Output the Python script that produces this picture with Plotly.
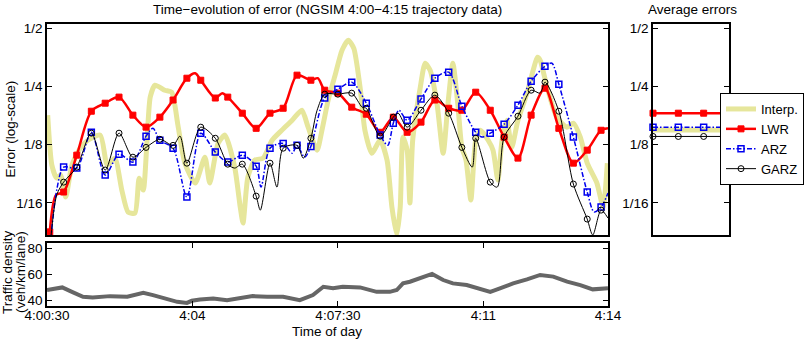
import plotly.graph_objects as go

# ---------------- data ----------------
# time axis: seconds after 4:00:00
t_mark = [34, 54, 73, 94, 114, 134, 154, 173, 193, 212, 232, 252, 273, 291, 312, 332,
          352, 371, 391, 411, 431, 450, 470, 491, 511, 530, 550, 570, 590, 610, 629, 649,
          670, 690, 710, 729, 749, 769, 790, 810, 830]

lwr_mark = [0.0443, 0.0712, 0.1104, 0.1863, 0.205, 0.2204, 0.1778, 0.1541, 0.1736, 0.2129,
            0.276, 0.2695, 0.218, 0.2204, 0.182, 0.152, 0.182, 0.193, 0.2862, 0.2695,
            0.2393, 0.231, 0.1955, 0.1798, 0.145, 0.1736, 0.145, 0.1636, 0.2129, 0.193,
            0.1885, 0.2337, 0.1885, 0.1369, 0.1066, 0.1778, 0.245, 0.152, 0.1004, 0.1172,
            0.1485]
t_lwr_extra = [43, 244, 283, 421, 840]
lwr_extra = [0.0687, 0.293, 0.231, 0.276, 0.152]

arz_mark = [0.0357, 0.0958, 0.0947, 0.145, 0.0871, 0.1117, 0.1017, 0.1385, 0.1319, 0.120,
            0.0671, 0.1435, 0.1145, 0.1017, 0.1104, 0.0969, 0.120, 0.127, 0.1241, 0.1226,
            0.218, 0.2421, 0.2633, 0.205, 0.1402, 0.1616, 0.1675, 0.2154, 0.276, 0.2967,
            0.1978, 0.145, 0.1435, 0.1597, 0.2003, 0.2663, 0.3185, 0.2569, 0.1369, 0.0712,
            0.0595]
t_arz_extra = [44, 183, 339, 384, 402, 522, 538, 658, 759, 820, 840]
arz_extra = [0.0729, 0.152, 0.0755, 0.113, 0.1078, 0.1241, 0.1885, 0.1369, 0.330, 0.0561, 0.0703]

garz_mark = [0.0357, 0.0801, 0.0958, 0.1435, 0.0925, 0.1435, 0.1078, 0.1211, 0.1334, 0.1241,
             0.1004, 0.1541, 0.135, 0.0992, 0.0992, 0.0678, 0.1004, 0.120, 0.1241, 0.135,
             0.2282, 0.2282, 0.231, 0.193, 0.1385, 0.1736, 0.1541, 0.1885, 0.2256, 0.182,
             0.1211, 0.135, 0.0801, 0.1369, 0.1756, 0.2393, 0.2633, 0.1863, 0.0783, 0.0516,
             0.0574]
t_garz_extra = [44, 222, 301, 338, 362, 400, 420, 485, 537, 644, 680, 742, 818, 840]
garz_extra = [0.0687, 0.1385, 0.0947, 0.0574, 0.0755, 0.1066, 0.1885, 0.1955, 0.182, 0.0958,
              0.0755, 0.231, 0.0427, 0.0522]

t_interp = [31, 37, 44, 50, 57, 66, 78, 89, 107, 117, 128, 138, 147, 157, 163, 169, 179, 186,
            200, 210, 219, 229, 244, 258, 265, 277, 287, 301, 309, 313, 320, 330, 342, 355,
            369, 384, 398, 407, 420, 427, 436, 446, 456, 465, 473, 482, 489, 499, 511, 521,
            528, 535, 540, 544, 550, 554, 558, 569, 576, 583, 593, 602, 609, 616, 623, 629,
            635, 642, 649, 656, 667, 674, 681, 687, 694, 701, 710, 723, 732, 738, 742, 752,
            766, 781, 790, 800, 810, 824, 833, 839]
interp = [0.1778, 0.0981, 0.0840, 0.0871, 0.0671, 0.0981, 0.120, 0.1319, 0.1402, 0.0981,
          0.1066, 0.0729, 0.0561, 0.0554, 0.0840, 0.0729, 0.2204, 0.254, 0.2393, 0.2337,
          0.1579, 0.1004, 0.0792, 0.1078, 0.0792, 0.127, 0.1402, 0.0958, 0.0595, 0.0492,
          0.0851, 0.1041, 0.1066, 0.1319, 0.1485, 0.1675, 0.1885, 0.1541, 0.1172, 0.1485,
          0.2129, 0.2862, 0.385, 0.434, 0.394, 0.248, 0.1485, 0.113, 0.1319, 0.1041,
          0.0595, 0.0427, 0.0595, 0.1369, 0.1172, 0.0624, 0.1319, 0.248, 0.330, 0.304,
          0.205, 0.113, 0.205, 0.330, 0.205, 0.1211, 0.1041, 0.0648, 0.1319, 0.1485,
          0.1319, 0.1172, 0.0821, 0.1319, 0.1675, 0.1211, 0.1675, 0.231, 0.304, 0.354,
          0.342, 0.248, 0.1736, 0.1541, 0.1616, 0.1369, 0.1004, 0.0792, 0.0595, 0.1004]

avg_names = ["Interp.", "LWR", "ARZ", "GARZ"]
avg_err = [0.149, 0.182, 0.154, 0.138]

t_dens = [30, 52, 66, 82, 96, 121, 146, 169, 183, 203, 218, 232, 239, 251, 270, 290, 309, 327,
          348, 371, 395, 414, 429, 443, 457, 482, 506, 525, 535, 544, 554, 564, 586, 602, 616,
          636, 655, 670, 684, 703, 723, 742, 761, 781, 800, 818, 840]
density = [47.8, 49.8, 46.4, 42.6, 42.1, 43.1, 42.6, 45.7, 43.9, 41.3, 38.7, 37.9, 39.5, 40.5,
           41.3, 40.0, 41.3, 43.1, 42.6, 42.6, 40.0, 43.9, 50.3, 49.1, 50.3, 49.8, 46.4, 46.4,
           47.8, 52.9, 54.2, 56.0, 60.2, 55.5, 52.9, 51.6, 48.3, 46.4, 49.1, 52.9, 56.0, 59.4,
           58.1, 54.2, 51.6, 48.3, 49.1]

time_ticks = [30, 240, 450, 660, 840]
time_labels = ["4:00:30", "4:04", "4:07:30", "4:11", "4:14"]
err_ticks = [1 / 16, 1 / 8, 1 / 4, 1 / 2]
err_labels = ["1/16", "1/8", "1/4", "1/2"]
dens_ticks = [40, 60, 80]


def merged(tm, em, tx, ex):
    pts = sorted(zip(list(tm) + list(tx), list(em) + list(ex)))
    return [p[0] for p in pts], [p[1] for p in pts]


# ---------------- styles ----------------
FONT = "Liberation Sans, Arial, Helvetica, sans-serif"
KHAKI = "rgb(230,230,155)"
RED = "#ff0000"
BLUE = "#0000ee"
BLACK = "#000000"
GRAY = "#666666"

styles = {
    "LWR": dict(line=dict(color=RED, width=2.5),
                marker=dict(symbol="square", size=6, color=RED, line=dict(color=RED, width=1))),
    "ARZ": dict(line=dict(color=BLUE, width=1.5, dash="5px,2px,1.5px,2px"),
                marker=dict(symbol="square-open", size=6, color=BLUE, line=dict(color=BLUE, width=1.5))),
    "GARZ": dict(line=dict(color=BLACK, width=1),
                 marker=dict(symbol="circle-open", size=6, color=BLACK, line=dict(color=BLACK, width=1))),
}

fig = go.Figure()

# Interp. (thick khaki)
fig.add_trace(go.Scatter(x=t_interp, y=interp, mode="lines", name="Interp.",
                         line=dict(color=KHAKI, width=5, shape="spline", smoothing=0.6),
                         legendgroup="Interp.", xaxis="x", yaxis="y"))

series = [("LWR", lwr_mark, t_lwr_extra, lwr_extra),
          ("ARZ", arz_mark, t_arz_extra, arz_extra),
          ("GARZ", garz_mark, t_garz_extra, garz_extra)]

for name, em, tx, ex in series:
    st = styles[name]
    tt, ee = merged(t_mark, em, tx, ex)
    line = dict(st["line"])
    line.update(shape="spline", smoothing=0.8)
    fig.add_trace(go.Scatter(x=tt, y=ee, mode="lines", line=line, showlegend=False,
                             legendgroup=name, name=name, xaxis="x", yaxis="y"))
    fig.add_trace(go.Scatter(x=t_mark, y=em, mode="markers", marker=st["marker"], showlegend=False,
                             legendgroup=name, name=name, xaxis="x", yaxis="y"))
    fig.add_trace(go.Scatter(x=[None], y=[None], mode="lines+markers", name=name, legendgroup=name,
                             line=st["line"], marker=st["marker"], xaxis="x", yaxis="y"))

# Average errors panel
avg_style = {
    "Interp.": dict(mode="lines", line=dict(color=KHAKI, width=5)),
    "LWR": dict(mode="lines+markers", line=styles["LWR"]["line"], marker=styles["LWR"]["marker"]),
    "ARZ": dict(mode="lines+markers", line=styles["ARZ"]["line"], marker=styles["ARZ"]["marker"]),
    "GARZ": dict(mode="lines+markers", line=styles["GARZ"]["line"], marker=styles["GARZ"]["marker"]),
}
for name, val in zip(avg_names, avg_err):
    fig.add_trace(go.Scatter(x=list(range(4)), y=[val] * 4, showlegend=False, name=name,
                             legendgroup=name, cliponaxis=False, xaxis="x2", yaxis="y2",
                             **avg_style[name]))

# Traffic density
fig.add_trace(go.Scatter(x=t_dens, y=density, mode="lines", showlegend=False, name="density",
                         line=dict(color=GRAY, width=4), xaxis="x3", yaxis="y3"))

ax_common = dict(showline=True, linecolor="black", linewidth=1.5, showgrid=False, zeroline=False,
                 tickcolor="black", tickwidth=1, ticklen=5, automargin=False,
                 tickfont=dict(family=FONT, size=13.5, color="black"))

X_MAIN = [47 / 806, 608 / 806]
X_AVG = [653 / 806, 729 / 806]
Y_MAIN = [(339 - 235) / 339, (339 - 24) / 339]
Y_DENS = [(339 - 306) / 339, (339 - 243) / 339]
LOG_RANGE = [-1.3697, -0.2788]

fig.update_layout(
    width=806, height=339,
    margin=dict(l=0, r=0, t=0, b=0, autoexpand=False),
    paper_bgcolor="white", plot_bgcolor="white",
    font=dict(family=FONT, size=13.5, color="black"),
    xaxis=dict(domain=X_MAIN, range=[30, 840], anchor="y", showticklabels=False, ticks="",
               mirror=True, **ax_common),
    yaxis=dict(domain=Y_MAIN, type="log", range=LOG_RANGE, anchor="x", tickvals=err_ticks,
               ticktext=err_labels, ticks="inside", mirror="ticks", **ax_common),
    xaxis2=dict(domain=X_AVG, range=[0, 3], anchor="y2", showticklabels=False, ticks="",
                mirror=True, **ax_common),
    yaxis2=dict(domain=Y_MAIN, type="log", range=LOG_RANGE, anchor="x2", tickvals=err_ticks,
                ticktext=err_labels, ticks="inside", mirror="ticks", **ax_common),
    xaxis3=dict(domain=X_MAIN, range=[30, 840], anchor="y3", tickvals=time_ticks,
                ticktext=time_labels, ticks="inside", mirror="ticks", ticklabelstandoff=-4,
                **ax_common),
    yaxis3=dict(domain=Y_DENS, range=[35.5, 84], anchor="x3", tickvals=dens_ticks,
                ticks="inside", mirror="ticks", **ax_common),
    legend=dict(x=804 / 806, y=(339 - 93) / 339, xanchor="right", yanchor="top",
                bgcolor="white", bordercolor="black", borderwidth=1,
                font=dict(family=FONT, size=13, color="black"), itemwidth=30,
                tracegroupgap=0),
    showlegend=True,
    annotations=[
        dict(text="Time\u2212evolution of error (NGSIM 4:00\u22124:15 trajectory data)",
             x=327 / 806, y=(339 - 9) / 339, xref="paper", yref="paper", showarrow=False,
             xanchor="center", yanchor="middle", font=dict(size=13.5)),
        dict(text="Average errors", x=692 / 806, y=(339 - 9) / 339, xref="paper", yref="paper",
             showarrow=False, xanchor="center", yanchor="middle", font=dict(size=13.5)),
        dict(text="Error (log-scale)", x=10 / 806, y=(339 - 129.5) / 339, xref="paper",
             yref="paper", showarrow=False, textangle=-90, xanchor="center", yanchor="middle",
             font=dict(size=13.5)),
        dict(text="Traffic density", x=7 / 806, y=(339 - 272) / 339, xref="paper", yref="paper",
             showarrow=False, textangle=-90, xanchor="center", yanchor="middle",
             font=dict(size=13.5)),
        dict(text="(veh/km/lane)", x=20 / 806, y=(339 - 272) / 339, xref="paper", yref="paper",
             showarrow=False, textangle=-90, xanchor="center", yanchor="middle",
             font=dict(size=13.5)),
        dict(text="Time of day", x=327 / 806, y=(339 - 331) / 339, xref="paper", yref="paper",
             showarrow=False, xanchor="center", yanchor="middle", font=dict(size=13.5)),
    ],
)

fig.write_html("out.html", config={"displayModeBar": False},
               post_script="document.body.style.margin='0';"
                           "document.body.style.overflow='hidden';")
